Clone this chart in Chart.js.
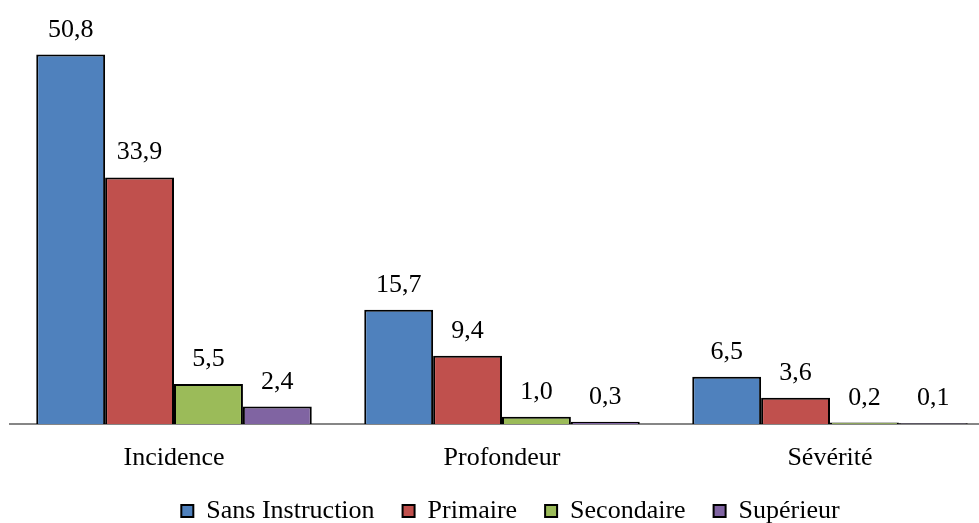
<!DOCTYPE html>
<html><head><meta charset="utf-8">
<script src="https://cdn.jsdelivr.net/npm/chart.js@4/dist/chart.umd.min.js"></script>
<style>html,body{margin:0;padding:0;background:#fff}#wrap{width:979px;height:523px}</style>
</head><body><div id="wrap"><canvas id="c" width="979" height="523"></canvas></div>
<script>
const categories = ["Incidence", "Profondeur", "Sévérité"];
const sansInstruction = [50.8, 15.7, 6.5];
const primaire = [33.9, 9.4, 3.6];
const secondaire = [5.5, 1.0, 0.2];
const superieur = [2.4, 0.3, 0.1];
const seriesNames = ["Sans Instruction", "Primaire", "Secondaire", "Supérieur"];
const colors = ["#4F81BD", "#C0504D", "#9BBB59", "#8064A2"];
const seriesData = [sansInstruction, primaire, secondaire, superieur];

const FONT = "'Liberation Serif', 'Times New Roman', serif";
const FS = 26;

const labelPlugin = {
  id: 'valLabels',
  afterLayout(chart) {
    // stretch category axis slightly past the right edge, as in the original
    const x = chart.scales.x;
    x.left = 10; x.right = 994; x.width = 984;
    x.height = 60; x.bottom = x.top + 60;
    x.configure();
    const lg = chart.legend;
    if (lg) { lg.top += 11; lg.bottom += 11; lg.left += 16; lg.right += 16; }
  },
  afterDatasetsDraw(chart) {
    const ctx = chart.ctx;
    ctx.save();
    ctx.font = FS + "px " + FONT;
    ctx.fillStyle = "#000";
    ctx.textAlign = "center";
    ctx.textBaseline = "alphabetic";
    chart.data.datasets.forEach((ds, i) => {
      const meta = chart.getDatasetMeta(i);
      meta.data.forEach((bar, j) => {
        const v = ds.data[j];
        ctx.fillText(v.toFixed(1).replace('.', ','), bar.x, bar.y - 18);
      });
    });
    ctx.restore();
  }
};

new Chart(document.getElementById('c'), {
  type: 'bar',
  data: {
    labels: categories,
    datasets: seriesData.map((d, i) => ({
      label: seriesNames[i],
      data: d,
      backgroundColor: colors[i],
      borderColor: "#000",
      borderWidth: 2,
      borderSkipped: 'bottom',
      categoryPercentage: 0.84,
      barPercentage: 1.0
    }))
  },
  options: {
    responsive: false,
    animation: false,
    layout: { padding: { left: 10, right: 0, top: 24, bottom: 0 } },
    plugins: {
      legend: {
        position: 'bottom',
        labels: {
          font: { family: FONT, size: FS },
          color: "#000",
          boxWidth: 12,
          boxHeight: 12,
          padding: 28,
          generateLabels(chart) {
            return chart.data.datasets.map((ds, i) => ({
              text: ds.label, fillStyle: ds.backgroundColor, strokeStyle: "#000",
              lineWidth: 2, datasetIndex: i, hidden: false, fontColor: "#000"
            }));
          }
        }
      },
      tooltip: { enabled: false }
    },
    scales: {
      x: {
        grid: { display: false, drawTicks: false },
        border: { display: true, color: "#868686", width: 2 },
        ticks: { font: { family: FONT, size: FS }, color: "#000", padding: 19 },
        afterFit(scale) { scale.height = 35; }
      },
      y: {
        display: false,
        min: 0, max: 55
      }
    }
  },
  plugins: [labelPlugin]
});
</script></body></html>
